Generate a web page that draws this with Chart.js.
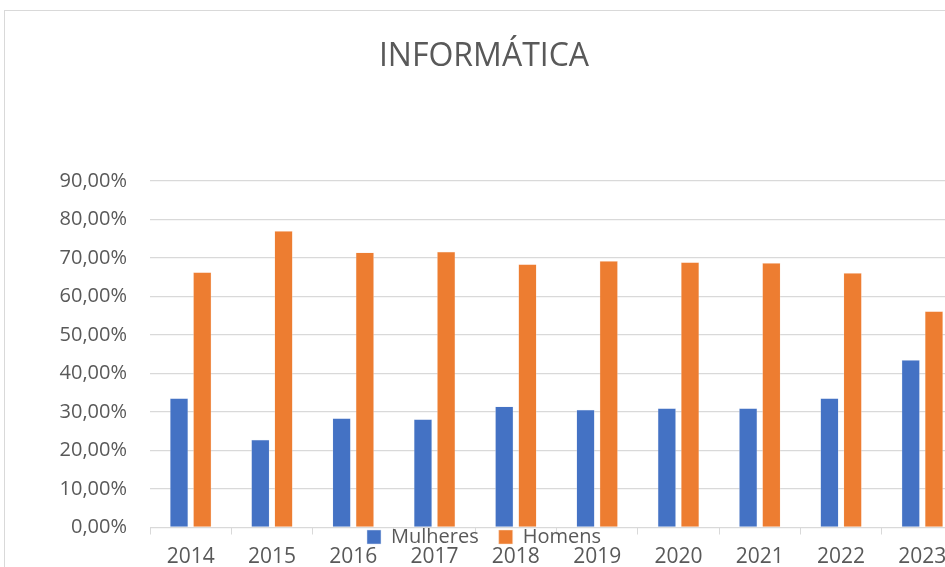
<!DOCTYPE html>
<html lang="pt">
<head>
<meta charset="utf-8">
<title>INFORMÁTICA</title>
<script src="https://cdn.jsdelivr.net/npm/chart.js@4/dist/chart.umd.min.js"></script>
<style>
  html, body { margin: 0; padding: 0; width: 945px; height: 567px; overflow: hidden; background: #fff; }
  #frame { position: absolute; left: 4px; top: 10px; border: 1px solid #d9d9d9; background: #fff; }
  canvas { display: block; }
</style>
</head>
<body>
<div id="frame">
  <canvas id="chart" width="958" height="620"></canvas>
</div>
<script>
// Share of women and men per year (percent).
const years = ["2014", "2015", "2016", "2017", "2018", "2019", "2020", "2021", "2022", "2023"];
const mulheres = [33.6, 22.8, 28.4, 28.1, 31.4, 30.6, 31.0, 31.0, 33.6, 43.5];
const homens = [66.3, 77.0, 71.4, 71.6, 68.4, 69.2, 68.9, 68.7, 66.1, 56.2];
const yTicks = [0, 10, 20, 30, 40, 50, 60, 70, 80, 90];

const GRID = "#d9d9d9";
const TEXT = "#595959";

Chart.defaults.font.family = "'Open Sans', sans-serif";
Chart.defaults.color = TEXT;

// Excel draws the legend over the category labels; lift it there after layout.
const liftLegend = {
  id: "liftLegend",
  afterLayout(chart) {
    const lg = chart.legend;
    if (!lg) return;
    const top = chart.chartArea.bottom - 20.5;
    const dy = lg.top - top;
    lg.top -= dy;
    lg.bottom -= dy;
  },
};

function percentLabel(v) {
  return v.toFixed(2).replace(".", ",") + "%";
}

new Chart(document.getElementById("chart"), {
  type: "bar",
  data: {
    labels: years,
    datasets: [
      {
        label: "Mulheres",
        data: mulheres,
        backgroundColor: "#4472c4",
        borderColor: "#dbe3f3",
        borderWidth: 0.5,
        categoryPercentage: 0.571,
        barPercentage: 0.785,
      },
      {
        label: "Homens",
        data: homens,
        backgroundColor: "#ed7d31",
        borderColor: "#fbe0cf",
        borderWidth: 0.5,
        categoryPercentage: 0.571,
        barPercentage: 0.785,
      },
    ],
  },
  options: {
    responsive: false,
    animation: false,
    layout: { padding: { left: 0, right: 0, top: 0, bottom: 8.5 } },
    plugins: {
      title: {
        display: true,
        text: "INFORMÁTICA",
        color: TEXT,
        font: { size: 32, weight: "normal" },
        padding: { top: 26.8, bottom: 104.8 },
      },
      legend: {
        position: "bottom",
        labels: {
          color: TEXT,
          font: { size: 20 },
          boxWidth: 14,
          boxHeight: 14,
          padding: 20,
        },
      },
      tooltip: { enabled: false },
    },
    scales: {
      x: {
        grid: {
          display: true,
          offset: true,
          drawOnChartArea: false,
          tickLength: 7,
          color: GRID,
        },
        border: { color: GRID },
        ticks: { font: { size: 21 }, color: TEXT, padding: 10, maxRotation: 0 },
        afterFit(scale) { scale.height = 45; },
      },
      y: {
        min: 0,
        max: 90,
        afterBuildTicks(scale) { scale.ticks = yTicks.map((v) => ({ value: v })); },
        grid: { color: GRID, drawTicks: false, lineWidth: 1.3 },
        border: { display: false },
        ticks: {
          font: { size: 20 },
          color: TEXT,
          padding: 23,
          callback: (v) => percentLabel(v),
        },
        afterFit(scale) { scale.width = 145; },
      },
    },
  },
  plugins: [liftLegend],
});
</script>
</body>
</html>
